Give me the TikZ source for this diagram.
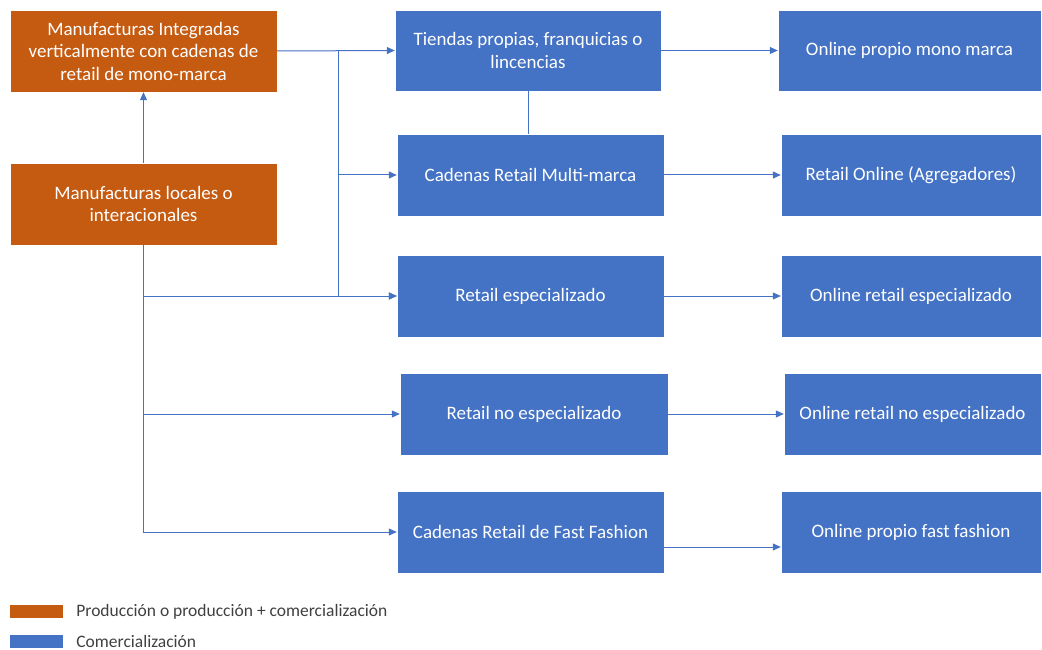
\documentclass[tikz,border=0pt]{standalone}
\usepackage{fontspec}
\setmainfont{Carlito}
\definecolor{ProdOrange}{RGB}{197,90,17}
\definecolor{ComBlue}{RGB}{68,114,196}
\definecolor{LegGray}{RGB}{64,64,64}
\usetikzlibrary{arrows.meta,positioning}

\begin{document}
\begin{tikzpicture}[x=1pt,y=-1pt,
    every node/.style={font=\fontsize{19}{22.5}\selectfont},
    prod/.style={fill=ProdOrange,draw=white,line width=0.4pt,text=white,
                 minimum width=267pt,minimum height=82pt,align=center,inner sep=0pt},
    com/.style={fill=ComBlue,draw=white,line width=0.4pt,text=white,
                minimum width=267pt,minimum height=82pt,align=center,inner sep=0pt},
    arr/.style={-{Triangle[length=8pt,width=7pt]},ComBlue,line width=1pt},
    lin/.style={ComBlue,line width=1pt},
    leg/.style={minimum width=53pt,minimum height=13pt,inner sep=0pt},
    legtxt/.style={font=\fontsize{17.5}{20}\selectfont,text=LegGray,inner sep=0pt}]
    \useasboundingbox (0,0) rectangle (1042,650);
    % manufacturas
    \node[prod] (m1) at (143.5,51) {Manufacturas Integradas\\verticalmente con cadenas de\\retail de mono-marca};
    \node[prod] (m2) at (143.5,204) {Manufacturas locales o\\interacionales};
    % comercializacion
    \node[com,minimum width=266pt,minimum height=81pt] (c1) at (528,50.5) {Tiendas propias, franquicias o\\lincencias};
    \node[com] (c2) at (530.5,175) {Cadenas Retail Multi-marca};
    \node[com] (c3) at (530.5,296) {Retail especializado};
    \node[com,minimum width=268pt] (c4) at (534,414) {Retail no especializado};
    \node[com] (c5) at (530.5,532) {Cadenas Retail de Fast Fashion};
    % online
    \node[com,minimum width=263pt,minimum height=81pt] (o1) at (909.5,50.5) {Online propio mono marca};
    \node[com,minimum width=260pt] (o2) at (911,175) {Retail Online (Agregadores)};
    \node[com,minimum width=260pt] (o3) at (911,296) {Online retail especializado};
    \node[com,minimum width=257pt] (o4) at (912.5,414) {Online retail no especializado};
    \node[com,minimum width=260pt] (o5) at (911,532) {Online propio fast fashion};
    \coordinate (j1) at (338,51);
    % conectores
    \draw[arr] (m2) -- (m1);
    \draw[arr] (m1.east) -- (c1.west);
    \draw[arr] (j1) |- (c2.west);
    \draw[arr] (j1) |- (c3.west);
    \draw[arr] (m2.south) |- (c3.west);
    \draw[arr] (m2.south) |- (c4.west);
    \draw[arr] (m2.south) |- (c5.west);
    \draw[lin] (c1.south) -- (c1.south |- c2.north);
    \draw[arr] (c1.east) -- (c1.east -| o1.west);
    \draw[arr] (c2.east) -- (o2.west);
    \draw[arr] (c3.east) -- (o3.west);
    \draw[arr] (c4.east) -- (o4.west);
    \draw[arr] ([yshift=-15pt]c5.east) -- ([yshift=-15pt]o5.west);
    % leyenda
    \node[leg,fill=ProdOrange] (l1) at (36.5,611.5) {};
    \node[leg,fill=ComBlue] (l2) at (36.5,641.5) {};
    \node[legtxt,right=13pt of l1] (t1) {Producción o producción + comercialización};
    \node[legtxt,right=13pt of l2] (t2) {Comercialización};
\end{tikzpicture}
\end{document}
